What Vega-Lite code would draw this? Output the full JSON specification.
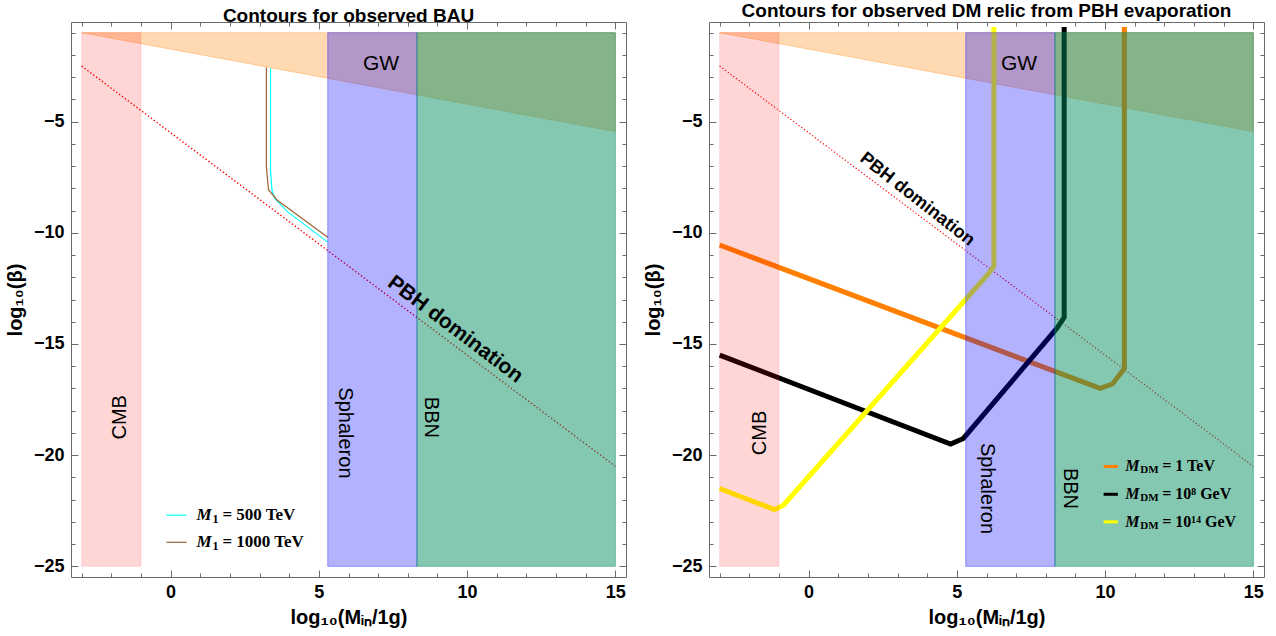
{
  "$schema": "https://vega.github.io/schema/vega-lite/v6.json",
  "background": "white",
  "padding": {"left": 4, "top": 1, "right": 10, "bottom": 5},
  "bounds": "flush",
  "spacing": 83,
  "config": {
    "font": "Liberation Sans",
    "view": {"stroke": "#6a6a6a", "strokeWidth": 1},
    "axis": {
      "domain": false, "grid": false, "tickColor": "#6a6a6a", "tickWidth": 1,
      "labelFont": "Liberation Sans", "labelFontWeight": "bold", "labelFontSize": 18, "labelColor": "black",
      "titleFont": "Liberation Sans", "titleFontWeight": "bold", "titleFontSize": 20, "titleColor": "black",
      "labelFlush": false, "labelOverlap": false
    },
    "title": {"font": "Liberation Sans", "fontSize": 19, "fontWeight": "bold", "color": "black", "anchor": "middle", "frame": "group", "offset": 2, "dy": 6}
  },
  "datasets": {
    "gw": [
      {"x": -3, "y": -1, "y2": -1},
      {"x": 15, "y": -5.45, "y2": -1}
    ],
    "pbh": [
      {"x": -3, "y": -2.5},
      {"x": 15, "y": -20.5}
    ],
    "bands": [
      {"band": "CMB", "x": -3, "x2": -1, "y": -25, "y2": -1},
      {"band": "Sphaleron", "x": 5.3, "x2": 8.31, "y": -25, "y2": -1},
      {"band": "BBN", "x": 8.31, "x2": 15, "y": -25, "y2": -1}
    ],
    "bau": [
      {"series": "M1=500", "i": 0, "x": 3.37, "y": -2.6},
      {"series": "M1=500", "i": 1, "x": 3.37, "y": -7.18},
      {"series": "M1=500", "i": 2, "x": 3.42, "y": -8.09},
      {"series": "M1=500", "i": 3, "x": 3.51, "y": -8.46},
      {"series": "M1=500", "i": 4, "x": 3.96, "y": -9.07},
      {"series": "M1=500", "i": 5, "x": 5.3, "y": -10.42},
      {"series": "M1=1000", "i": 0, "x": 3.23, "y": -2.57},
      {"series": "M1=1000", "i": 1, "x": 3.23, "y": -7.03},
      {"series": "M1=1000", "i": 2, "x": 3.3, "y": -8.06},
      {"series": "M1=1000", "i": 3, "x": 3.6, "y": -8.54},
      {"series": "M1=1000", "i": 4, "x": 5.3, "y": -10.2}
    ],
    "dm": [
      {"series": "1 TeV", "i": 0, "x": -3, "y": -10.55},
      {"series": "1 TeV", "i": 1, "x": 9.83, "y": -17.0},
      {"series": "1 TeV", "i": 2, "x": 10.25, "y": -16.8},
      {"series": "1 TeV", "i": 3, "x": 10.65, "y": -16.1},
      {"series": "1 TeV", "i": 4, "x": 10.65, "y": -0.75},
      {"series": "1e8 GeV", "i": 0, "x": -3, "y": -15.5},
      {"series": "1e8 GeV", "i": 1, "x": 4.79, "y": -19.5},
      {"series": "1e8 GeV", "i": 2, "x": 5.22, "y": -19.25},
      {"series": "1e8 GeV", "i": 3, "x": 8.37, "y": -14.3},
      {"series": "1e8 GeV", "i": 4, "x": 8.62, "y": -13.8},
      {"series": "1e8 GeV", "i": 5, "x": 8.62, "y": -0.75},
      {"series": "1e14 GeV", "i": 0, "x": -3, "y": -21.5},
      {"series": "1e14 GeV", "i": 1, "x": -1.15, "y": -22.45},
      {"series": "1e14 GeV", "i": 2, "x": -0.85, "y": -22.25},
      {"series": "1e14 GeV", "i": 3, "x": 6.06, "y": -11.85},
      {"series": "1e14 GeV", "i": 4, "x": 6.25, "y": -11.5},
      {"series": "1e14 GeV", "i": 5, "x": 6.25, "y": -0.75}
    ],
    "legL": [
      {"series": "M1=500", "x": -0.14, "x2": 0.54, "tx": 0.87, "y": -22.7, "sub": "1", "rest": "= 500 TeV"},
      {"series": "M1=1000", "x": -0.14, "x2": 0.54, "tx": 0.87, "y": -23.92, "sub": "1", "rest": "= 1000 TeV"}
    ],
    "legR": [
      {"series": "1 TeV", "x": 9.95, "x2": 10.43, "tx": 10.68, "y": -20.51, "sub": "DM", "rest": "= 1 TeV"},
      {"series": "1e8 GeV", "x": 9.95, "x2": 10.43, "tx": 10.68, "y": -21.76, "sub": "DM", "rest": "= 10⁸ GeV"},
      {"series": "1e14 GeV", "x": 9.95, "x2": 10.43, "tx": 10.68, "y": -23.0, "sub": "DM", "rest": "= 10¹⁴ GeV"}
    ],
    "upL": [{"x": -1.7, "y": -18.3, "t": "CMB"}],
    "downL": [{"x": 5.88, "y": -19.0, "t": "Sphaleron"}, {"x": 8.77, "y": -18.3, "t": "BBN"}],
    "flatL": [{"x": 7.1, "y": -2.4, "t": "GW"}],
    "pbhL": [{"x": 9.6, "y": -14.35, "t": "PBH domination"}],
    "upR": [{"x": -1.64, "y": -19.0, "t": "CMB"}],
    "downR": [{"x": 6.0, "y": -21.5, "t": "Sphaleron"}, {"x": 8.8, "y": -21.5, "t": "BBN"}],
    "flatR": [{"x": 7.1, "y": -2.4, "t": "GW"}],
    "pbhR": [{"x": 3.66, "y": -8.5, "t": "PBH domination"}]
  },
  "hconcat": [
    {
      "width": 555, "height": 555,
      "title": {"text": "Contours for observed BAU"},
      "resolve": {"axis": {"x": "independent", "y": "independent"}},
      "layer": [
        {
          "data": {"name": "gw"},
          "mark": {"type": "area", "fill": "#ff8000", "fillOpacity": 0.3, "stroke": "#ff8000", "strokeOpacity": 0.3, "strokeWidth": 1},
          "encoding": {
            "x": {"field": "x", "type": "quantitative", "scale": {"domain": [-3.36, 15.36], "nice": false, "zero": false},
                  "axis": {"orient": "bottom", "values": [0, 5, 10, 15], "tickSize": -7, "labelPadding": 13, "labelFontWeight": "bold", "title": "log₁₀(Mᵢₙ/1g)", "titlePadding": 6}},
            "y": {"field": "y", "type": "quantitative", "scale": {"domain": [-25.48, -0.52], "nice": false, "zero": false},
                  "axis": {"orient": "left", "values": [-25, -20, -15, -10, -5], "tickSize": -7, "labelPadding": 14, "labelFontWeight": "bold", "title": "log₁₀(β)", "titlePadding": 8}},
            "y2": {"field": "y2"}
          }
        },
        {
          "data": {"name": "pbh"},
          "mark": {"type": "line", "stroke": "#ff0000", "strokeWidth": 1.4, "strokeDash": [1.4, 2.2]},
          "encoding": {
            "x": {"field": "x", "type": "quantitative", "scale": {"domain": [-3.36, 15.36], "nice": false, "zero": false},
                  "axis": {"orient": "bottom", "values": [-3, -2, -1, 1, 2, 3, 4, 6, 7, 8, 9, 11, 12, 13, 14], "tickSize": -4, "labels": false, "title": null}},
            "y": {"field": "y", "type": "quantitative", "scale": {"domain": [-25.48, -0.52], "nice": false, "zero": false},
                  "axis": {"orient": "left", "values": [-24, -23, -22, -21, -19, -18, -17, -16, -14, -13, -12, -11, -9, -8, -7, -6, -4, -3, -2, -1], "tickSize": -4, "labels": false, "title": null}}
          }
        },
        {
          "data": {"name": "bau"},
          "mark": {"type": "line", "strokeWidth": 1.2},
          "encoding": {
            "x": {"field": "x", "type": "quantitative", "scale": {"domain": [-3.36, 15.36], "nice": false, "zero": false},
                  "axis": {"orient": "top", "values": [0, 5, 10, 15], "tickSize": -7, "labels": false, "title": null}},
            "y": {"field": "y", "type": "quantitative", "scale": {"domain": [-25.48, -0.52], "nice": false, "zero": false},
                  "axis": {"orient": "right", "values": [-25, -20, -15, -10, -5], "tickSize": -7, "labels": false, "title": null}},
            "color": {"field": "series", "type": "nominal", "scale": {"domain": ["M1=500", "M1=1000", "1 TeV", "1e8 GeV", "1e14 GeV"], "range": ["#00ffff", "#996633", "#ff8000", "#000000", "#ffff00"]}, "legend": null},
            "order": {"field": "i", "type": "quantitative"}
          }
        },
        {
          "data": {"name": "bands"},
          "mark": {"type": "rect", "strokeWidth": 1},
          "encoding": {
            "x": {"field": "x", "type": "quantitative", "scale": {"domain": [-3.36, 15.36], "nice": false, "zero": false},
                  "axis": {"orient": "top", "values": [-3, -2, -1, 1, 2, 3, 4, 6, 7, 8, 9, 11, 12, 13, 14], "tickSize": -4, "labels": false, "title": null}},
            "x2": {"field": "x2"},
            "y": {"field": "y", "type": "quantitative", "scale": {"domain": [-25.48, -0.52], "nice": false, "zero": false},
                  "axis": {"orient": "right", "values": [-24, -23, -22, -21, -19, -18, -17, -16, -14, -13, -12, -11, -9, -8, -7, -6, -4, -3, -2, -1], "tickSize": -4, "labels": false, "title": null}},
            "y2": {"field": "y2"},
            "fill": {"field": "band", "type": "nominal", "scale": {"domain": ["CMB", "Sphaleron", "BBN"], "range": ["rgba(255,0,0,0.16)", "rgba(0,0,255,0.3)", "rgba(0,140,95,0.48)"]}, "legend": null},
            "stroke": {"field": "band", "type": "nominal", "scale": {"domain": ["CMB", "Sphaleron", "BBN"], "range": ["rgba(255,0,0,0.12)", "rgba(0,0,255,0.35)", "rgba(0,140,95,0.5)"]}, "legend": null}
          }
        },
        {
          "data": {"name": "upL"},
          "mark": {"type": "text", "angle": 270, "fontSize": 20, "font": "Liberation Sans", "color": "black", "align": "center", "baseline": "middle"},
          "encoding": {
            "x": {"field": "x", "type": "quantitative", "scale": {"domain": [-3.36, 15.36], "nice": false, "zero": false}, "axis": null},
            "y": {"field": "y", "type": "quantitative", "scale": {"domain": [-25.48, -0.52], "nice": false, "zero": false}, "axis": null},
            "text": {"field": "t"}
          }
        },
        {
          "data": {"name": "downL"},
          "mark": {"type": "text", "angle": 90, "fontSize": 20, "font": "Liberation Sans", "color": "black", "align": "center", "baseline": "middle"},
          "encoding": {
            "x": {"field": "x", "type": "quantitative", "scale": {"domain": [-3.36, 15.36], "nice": false, "zero": false}, "axis": null},
            "y": {"field": "y", "type": "quantitative", "scale": {"domain": [-25.48, -0.52], "nice": false, "zero": false}, "axis": null},
            "text": {"field": "t"}
          }
        },
        {
          "data": {"name": "flatL"},
          "mark": {"type": "text", "fontSize": 21, "font": "Liberation Sans", "color": "black", "align": "center", "baseline": "middle"},
          "encoding": {
            "x": {"field": "x", "type": "quantitative", "scale": {"domain": [-3.36, 15.36], "nice": false, "zero": false}, "axis": null},
            "y": {"field": "y", "type": "quantitative", "scale": {"domain": [-25.48, -0.52], "nice": false, "zero": false}, "axis": null},
            "text": {"field": "t"}
          }
        },
        {
          "data": {"name": "pbhL"},
          "mark": {"type": "text", "angle": 37, "fontSize": 21, "fontWeight": "bold", "font": "Liberation Sans", "color": "black", "align": "center", "baseline": "middle"},
          "encoding": {
            "x": {"field": "x", "type": "quantitative", "scale": {"domain": [-3.36, 15.36], "nice": false, "zero": false}, "axis": null},
            "y": {"field": "y", "type": "quantitative", "scale": {"domain": [-25.48, -0.52], "nice": false, "zero": false}, "axis": null},
            "text": {"field": "t"}
          }
        },
        {
          "data": {"name": "legL"},
          "mark": {"type": "rule", "strokeWidth": 1.2},
          "encoding": {
            "x": {"field": "x", "type": "quantitative", "scale": {"domain": [-3.36, 15.36], "nice": false, "zero": false}, "axis": null},
            "x2": {"field": "x2"},
            "y": {"field": "y", "type": "quantitative", "scale": {"domain": [-25.48, -0.52], "nice": false, "zero": false}, "axis": null},
            "color": {"field": "series", "type": "nominal", "scale": {"domain": ["M1=500", "M1=1000", "1 TeV", "1e8 GeV", "1e14 GeV"], "range": ["#00ffff", "#996633", "#ff8000", "#000000", "#ffff00"]}, "legend": null}
          }
        },
        {
          "data": {"name": "legL"},
          "mark": {"type": "text", "text": "M", "fontSize": 17, "fontWeight": "bold", "fontStyle": "italic", "font": "Liberation Serif", "color": "black", "align": "left", "baseline": "middle"},
          "encoding": {
            "x": {"field": "tx", "type": "quantitative", "scale": {"domain": [-3.36, 15.36], "nice": false, "zero": false}, "axis": null},
            "y": {"field": "y", "type": "quantitative", "scale": {"domain": [-25.48, -0.52], "nice": false, "zero": false}, "axis": null}
          }
        },
        {
          "data": {"name": "legL"},
          "mark": {"type": "text", "dx": 16, "dy": 4, "fontSize": 12, "fontWeight": "bold", "font": "Liberation Serif", "color": "black", "align": "left", "baseline": "middle"},
          "encoding": {
            "x": {"field": "tx", "type": "quantitative", "scale": {"domain": [-3.36, 15.36], "nice": false, "zero": false}, "axis": null},
            "y": {"field": "y", "type": "quantitative", "scale": {"domain": [-25.48, -0.52], "nice": false, "zero": false}, "axis": null},
            "text": {"field": "sub"}
          }
        },
        {
          "data": {"name": "legL"},
          "mark": {"type": "text", "dx": 26, "fontSize": 17, "fontWeight": "bold", "font": "Liberation Serif", "color": "black", "align": "left", "baseline": "middle"},
          "encoding": {
            "x": {"field": "tx", "type": "quantitative", "scale": {"domain": [-3.36, 15.36], "nice": false, "zero": false}, "axis": null},
            "y": {"field": "y", "type": "quantitative", "scale": {"domain": [-25.48, -0.52], "nice": false, "zero": false}, "axis": null},
            "text": {"field": "rest"}
          }
        }
      ]
    },
    {
      "width": 555, "height": 555,
      "title": {"text": "Contours for observed DM relic from PBH evaporation"},
      "resolve": {"axis": {"x": "independent", "y": "independent"}},
      "layer": [
        {
          "data": {"name": "gw"},
          "mark": {"type": "area", "fill": "#ff8000", "fillOpacity": 0.3, "stroke": "#ff8000", "strokeOpacity": 0.3, "strokeWidth": 1},
          "encoding": {
            "x": {"field": "x", "type": "quantitative", "scale": {"domain": [-3.36, 15.36], "nice": false, "zero": false},
                  "axis": {"orient": "bottom", "values": [0, 5, 10, 15], "tickSize": -7, "labelPadding": 13, "labelFontWeight": "bold", "title": "log₁₀(Mᵢₙ/1g)", "titlePadding": 6}},
            "y": {"field": "y", "type": "quantitative", "scale": {"domain": [-25.48, -0.52], "nice": false, "zero": false},
                  "axis": {"orient": "left", "values": [-25, -20, -15, -10, -5], "tickSize": -7, "labelPadding": 14, "labelFontWeight": "bold", "title": "log₁₀(β)", "titlePadding": 8}},
            "y2": {"field": "y2"}
          }
        },
        {
          "data": {"name": "pbh"},
          "mark": {"type": "line", "stroke": "#ff0000", "strokeWidth": 1.2, "strokeDash": [1.2, 2.2]},
          "encoding": {
            "x": {"field": "x", "type": "quantitative", "scale": {"domain": [-3.36, 15.36], "nice": false, "zero": false},
                  "axis": {"orient": "bottom", "values": [-3, -2, -1, 1, 2, 3, 4, 6, 7, 8, 9, 11, 12, 13, 14], "tickSize": -4, "labels": false, "title": null}},
            "y": {"field": "y", "type": "quantitative", "scale": {"domain": [-25.48, -0.52], "nice": false, "zero": false},
                  "axis": {"orient": "left", "values": [-24, -23, -22, -21, -19, -18, -17, -16, -14, -13, -12, -11, -9, -8, -7, -6, -4, -3, -2, -1], "tickSize": -4, "labels": false, "title": null}}
          }
        },
        {
          "data": {"name": "dm"},
          "mark": {"type": "line", "strokeWidth": 5, "strokeJoin": "miter"},
          "encoding": {
            "x": {"field": "x", "type": "quantitative", "scale": {"domain": [-3.36, 15.36], "nice": false, "zero": false},
                  "axis": {"orient": "top", "values": [0, 5, 10, 15], "tickSize": -7, "labels": false, "title": null}},
            "y": {"field": "y", "type": "quantitative", "scale": {"domain": [-25.48, -0.52], "nice": false, "zero": false},
                  "axis": {"orient": "right", "values": [-25, -20, -15, -10, -5], "tickSize": -7, "labels": false, "title": null}},
            "color": {"field": "series", "type": "nominal", "scale": {"domain": ["M1=500", "M1=1000", "1 TeV", "1e8 GeV", "1e14 GeV"], "range": ["#00ffff", "#996633", "#ff8000", "#000000", "#ffff00"]}, "legend": null},
            "order": {"field": "i", "type": "quantitative"}
          }
        },
        {
          "data": {"name": "bands"},
          "mark": {"type": "rect", "strokeWidth": 1},
          "encoding": {
            "x": {"field": "x", "type": "quantitative", "scale": {"domain": [-3.36, 15.36], "nice": false, "zero": false},
                  "axis": {"orient": "top", "values": [-3, -2, -1, 1, 2, 3, 4, 6, 7, 8, 9, 11, 12, 13, 14], "tickSize": -4, "labels": false, "title": null}},
            "x2": {"field": "x2"},
            "y": {"field": "y", "type": "quantitative", "scale": {"domain": [-25.48, -0.52], "nice": false, "zero": false},
                  "axis": {"orient": "right", "values": [-24, -23, -22, -21, -19, -18, -17, -16, -14, -13, -12, -11, -9, -8, -7, -6, -4, -3, -2, -1], "tickSize": -4, "labels": false, "title": null}},
            "y2": {"field": "y2"},
            "fill": {"field": "band", "type": "nominal", "scale": {"domain": ["CMB", "Sphaleron", "BBN"], "range": ["rgba(255,0,0,0.16)", "rgba(0,0,255,0.3)", "rgba(0,140,95,0.48)"]}, "legend": null},
            "stroke": {"field": "band", "type": "nominal", "scale": {"domain": ["CMB", "Sphaleron", "BBN"], "range": ["rgba(255,0,0,0.12)", "rgba(0,0,255,0.35)", "rgba(0,140,95,0.5)"]}, "legend": null}
          }
        },
        {
          "data": {"name": "upR"},
          "mark": {"type": "text", "angle": 270, "fontSize": 20, "font": "Liberation Sans", "color": "black", "align": "center", "baseline": "middle"},
          "encoding": {
            "x": {"field": "x", "type": "quantitative", "scale": {"domain": [-3.36, 15.36], "nice": false, "zero": false}, "axis": null},
            "y": {"field": "y", "type": "quantitative", "scale": {"domain": [-25.48, -0.52], "nice": false, "zero": false}, "axis": null},
            "text": {"field": "t"}
          }
        },
        {
          "data": {"name": "downR"},
          "mark": {"type": "text", "angle": 90, "fontSize": 20, "font": "Liberation Sans", "color": "black", "align": "center", "baseline": "middle"},
          "encoding": {
            "x": {"field": "x", "type": "quantitative", "scale": {"domain": [-3.36, 15.36], "nice": false, "zero": false}, "axis": null},
            "y": {"field": "y", "type": "quantitative", "scale": {"domain": [-25.48, -0.52], "nice": false, "zero": false}, "axis": null},
            "text": {"field": "t"}
          }
        },
        {
          "data": {"name": "flatR"},
          "mark": {"type": "text", "fontSize": 21, "font": "Liberation Sans", "color": "black", "align": "center", "baseline": "middle"},
          "encoding": {
            "x": {"field": "x", "type": "quantitative", "scale": {"domain": [-3.36, 15.36], "nice": false, "zero": false}, "axis": null},
            "y": {"field": "y", "type": "quantitative", "scale": {"domain": [-25.48, -0.52], "nice": false, "zero": false}, "axis": null},
            "text": {"field": "t"}
          }
        },
        {
          "data": {"name": "pbhR"},
          "mark": {"type": "text", "angle": 38, "fontSize": 18, "fontWeight": "bold", "font": "Liberation Sans", "color": "black", "align": "center", "baseline": "middle"},
          "encoding": {
            "x": {"field": "x", "type": "quantitative", "scale": {"domain": [-3.36, 15.36], "nice": false, "zero": false}, "axis": null},
            "y": {"field": "y", "type": "quantitative", "scale": {"domain": [-25.48, -0.52], "nice": false, "zero": false}, "axis": null},
            "text": {"field": "t"}
          }
        },
        {
          "data": {"name": "legR"},
          "mark": {"type": "rule", "strokeWidth": 3},
          "encoding": {
            "x": {"field": "x", "type": "quantitative", "scale": {"domain": [-3.36, 15.36], "nice": false, "zero": false}, "axis": null},
            "x2": {"field": "x2"},
            "y": {"field": "y", "type": "quantitative", "scale": {"domain": [-25.48, -0.52], "nice": false, "zero": false}, "axis": null},
            "color": {"field": "series", "type": "nominal", "scale": {"domain": ["M1=500", "M1=1000", "1 TeV", "1e8 GeV", "1e14 GeV"], "range": ["#00ffff", "#996633", "#ff8000", "#000000", "#ffff00"]}, "legend": null}
          }
        },
        {
          "data": {"name": "legR"},
          "mark": {"type": "text", "text": "M", "fontSize": 16, "fontWeight": "bold", "fontStyle": "italic", "font": "Liberation Serif", "color": "black", "align": "left", "baseline": "middle"},
          "encoding": {
            "x": {"field": "tx", "type": "quantitative", "scale": {"domain": [-3.36, 15.36], "nice": false, "zero": false}, "axis": null},
            "y": {"field": "y", "type": "quantitative", "scale": {"domain": [-25.48, -0.52], "nice": false, "zero": false}, "axis": null}
          }
        },
        {
          "data": {"name": "legR"},
          "mark": {"type": "text", "dx": 15, "dy": 4, "fontSize": 11, "fontWeight": "bold", "font": "Liberation Serif", "color": "black", "align": "left", "baseline": "middle"},
          "encoding": {
            "x": {"field": "tx", "type": "quantitative", "scale": {"domain": [-3.36, 15.36], "nice": false, "zero": false}, "axis": null},
            "y": {"field": "y", "type": "quantitative", "scale": {"domain": [-25.48, -0.52], "nice": false, "zero": false}, "axis": null},
            "text": {"field": "sub"}
          }
        },
        {
          "data": {"name": "legR"},
          "mark": {"type": "text", "dx": 37, "fontSize": 16, "fontWeight": "bold", "font": "Liberation Serif", "color": "black", "align": "left", "baseline": "middle"},
          "encoding": {
            "x": {"field": "tx", "type": "quantitative", "scale": {"domain": [-3.36, 15.36], "nice": false, "zero": false}, "axis": null},
            "y": {"field": "y", "type": "quantitative", "scale": {"domain": [-25.48, -0.52], "nice": false, "zero": false}, "axis": null},
            "text": {"field": "rest"}
          }
        }
      ]
    }
  ]
}
